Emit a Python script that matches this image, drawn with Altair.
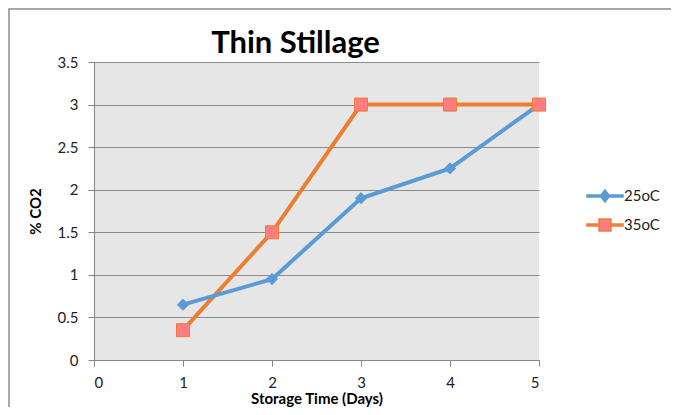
import altair as alt
import pandas as pd

days = [1, 2, 3, 4, 5]
co2_25 = [0.65, 0.95, 1.9, 2.25, 3.0]
co2_35 = [0.35, 1.5, 3.0, 3.0, 3.0]
series_names = ["25oC", "35oC"]

BLUE = "#5B9BD5"
ORANGE = "#ED7D31"
PINK = "#FF7C80"
FONT = "Lato"

rows = []
for d, v in zip(days, co2_25):
    rows.append({"day": d, "co2": v, "series": "25oC"})
for d, v in zip(days, co2_35):
    rows.append({"day": d, "co2": v, "series": "35oC"})
df = pd.DataFrame(rows)

x = alt.X("day:Q", title="Storage Time (Days)",
          scale=alt.Scale(domain=[0, 5], nice=False),
          axis=alt.Axis(values=[0, 1, 2, 3, 4, 5], grid=False, tickSize=6,
                        labelPadding=9, titlePadding=1))
y = alt.Y("co2:Q", title="% CO2",
          scale=alt.Scale(domain=[0, 3.5], nice=False),
          axis=alt.Axis(values=[0, 0.5, 1, 1.5, 2, 2.5, 3, 3.5], grid=True,
                        tickSize=6, labelPadding=10, titlePadding=14,
                        labelExpr="'' + datum.value"))

base = alt.Chart(df)

line25 = base.transform_filter(alt.datum.series == "25oC").mark_line(
    color=BLUE, strokeWidth=4).encode(x=x, y=y)
line35 = base.transform_filter(alt.datum.series == "35oC").mark_line(
    color=ORANGE, strokeWidth=4).encode(x=x, y=y)
pts25 = base.transform_filter(alt.datum.series == "25oC").mark_point(
    shape="diamond", filled=True, color=BLUE, size=150, opacity=1).encode(x=x, y=y)
pts35 = base.transform_filter(alt.datum.series == "35oC").mark_square(
    fill=PINK, stroke=ORANGE, strokeWidth=1, size=170, opacity=1).encode(x=x, y=y)

path25 = ("M-1,-0.06L-0.26,-0.06L-0.26,0.06L-1,0.06Z "
          "M0.26,-0.06L1,-0.06L1,0.06L0.26,0.06Z "
          "M0,-0.34L0.26,0L0,0.34L-0.26,0Z")
path35 = ("M-1,-0.06L-0.33,-0.06L-0.33,0.06L-1,0.06Z "
          "M0.33,-0.06L1,-0.06L1,0.06L0.33,0.06Z "
          "M-0.33,-0.33L0.33,-0.33L0.33,0.33L-0.33,0.33Z")

leg = alt.Legend(title=None, orient="none", legendX=492, legendY=115,
                 symbolSize=1296, symbolStrokeWidth=1.5, rowPadding=-1,
                 labelFontSize=15, labelFont=FONT, labelColor="#222222",
                 labelOffset=0, padding=0, symbolOpacity=1)

legend_layer = base.transform_filter("false").mark_point(opacity=1).encode(
    x=x, y=y,
    shape=alt.Shape("series:N", legend=leg,
                    scale=alt.Scale(domain=series_names, range=[path25, path35])),
    fill=alt.Fill("series:N", legend=leg,
                  scale=alt.Scale(domain=series_names, range=[BLUE, PINK])),
    stroke=alt.Stroke("series:N", legend=leg,
                      scale=alt.Scale(domain=series_names, range=[BLUE, ORANGE])),
)

# outer chart frame: an unfilled rectangle whose right and bottom edges fall
# outside the picture, so only its top and left edges show (as in the reference)
frame_df = pd.DataFrame({"k": [0]})
frame = alt.Chart(frame_df).mark_rect(
    fill="transparent", stroke="#8C8C8C", strokeWidth=1.5, clip=False).encode(
    x=alt.value(-85), x2=alt.value(700), y=alt.value(-53), y2=alt.value(500))

chart = alt.layer(frame, line35, line25, pts25, pts35, legend_layer).properties(
    width=445, height=298,
    autosize=alt.AutoSizeParams(type="none"),
    padding={"left": 86, "top": 54, "right": 132, "bottom": 47},
    background="white",
    title=alt.Title("Thin Stillage", font=FONT, fontSize=31, fontWeight="bold",
                    color="#000000", anchor="middle", dx=-21, dy=86, offset=10,
                    frame="group", baseline="alphabetic"),
).configure_view(
    fill="#E6E6E6", stroke=None,
).configure_axis(
    domainColor="#868686", tickColor="#868686", gridColor="#8C8C8C",
    labelFont=FONT, labelFontSize=15, labelColor="#222222",
    titleFont=FONT, titleFontSize=15, titleFontWeight="bold", titleColor="#000000",
)

chart.save("out.html", embed_options={"renderer": "svg", "actions": False})
